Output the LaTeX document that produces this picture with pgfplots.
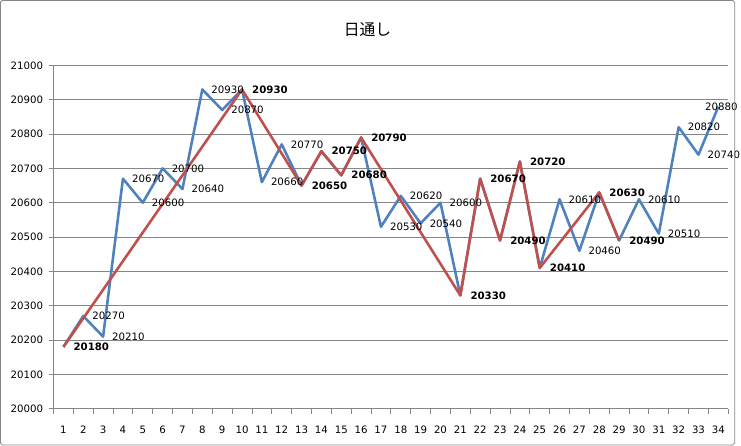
\documentclass[border=0pt]{standalone}
\usepackage{pgfplots}
\pgfplotsset{compat=1.18}
\usepackage{fontspec}
\setmainfont{DejaVu Sans}
\newfontfamily\cjk{Noto Sans CJK JP}
\definecolor{exblue}{HTML}{4F81BD}
\definecolor{exred}{HTML}{C0504D}
\definecolor{exgrid}{HTML}{868686}
\begin{document}
\begin{tikzpicture}
\begin{axis}[
  name=ax,
  scale only axis,
  width=680bp, height=346bp,
  xmin=0.5, xmax=34.5,
  ymin=20000, ymax=21000,
  axis x line=bottom, axis y line=left,
  axis line style={-, exgrid, line width=0.8bp},
  xtick={1,...,34},
  minor xtick={0.5,1.5,...,34.5},
  ytick={20000,20100,...,21000},
  scaled y ticks=false,
  tick align=outside,
  major tick length=5bp, minor tick length=5bp,
  major x tick style={draw=none},
  minor x tick style={exgrid, line width=0.8bp},
  y tick style={exgrid, line width=0.8bp},
  ymajorgrids,
  grid style={exgrid, line width=0.8bp},
  tick label style={font=\fontsize{10.3}{12}\selectfont, text=black},
  yticklabel style={xshift=-2bp},
  xticklabel style={yshift=-9bp},
  /pgf/number format/1000 sep={},
  /pgf/number format/assume math mode=true,
  clip=false,
  every node near coord/.append style={anchor=west, xshift=8bp, font=\fontsize{10.3}{12}\selectfont, text=black, inner sep=1bp},
]
\addplot[exblue, line width=2.6bp, mark=none, line join=round] coordinates {
(1,20180)(2,20270)(3,20210)(4,20670)(5,20600)(6,20700)(7,20640)(8,20930)(9,20870)(10,20930)
(11,20660)(12,20770)(13,20650)(14,20750)(15,20680)(16,20790)(17,20530)(18,20620)(19,20540)(20,20600)
(21,20330)(22,20670)(23,20490)(24,20720)(25,20410)(26,20610)(27,20460)(28,20630)(29,20490)(30,20610)
(31,20510)(32,20820)(33,20740)(34,20880)};
\addplot[exred, line width=2.6bp, mark=none, line join=round, nodes near coords,
  every node near coord/.append style={font=\fontsize{10.3}{12}\selectfont\bfseries}] coordinates {
(1,20180)(10,20930)(13,20650)(14,20750)(15,20680)(16,20790)(21,20330)(22,20670)(23,20490)(24,20720)
(25,20410)(28,20630)(29,20490)};
\addplot[draw=none, mark=none, nodes near coords] coordinates {
(2,20270)(3,20210)(4,20670)(5,20600)(6,20700)(7,20640)(8,20930)(9,20870)
(11,20660)(12,20770)(17,20530)(18,20620)(19,20540)(20,20600)
(26,20610)(27,20460)(30,20610)(31,20510)(32,20820)(33,20740)};
\addplot[draw=none, mark=none, nodes near coords,
  every node near coord/.append style={anchor=center, xshift=-5bp}] coordinates {(34,20880)};
\end{axis}
\draw[exgrid, line width=0.8bp, rounded corners=2bp] ([shift={(-53.5bp,-36.5bp)}]ax.south west) rectangle ([shift={(6.5bp,65.5bp)}]ax.north east);
\node[font=\cjk\fontsize{16}{18}\selectfont, anchor=center] at ([shift={(316.5bp,36bp)}]ax.north west) {日通し};
\end{tikzpicture}
\end{document}
